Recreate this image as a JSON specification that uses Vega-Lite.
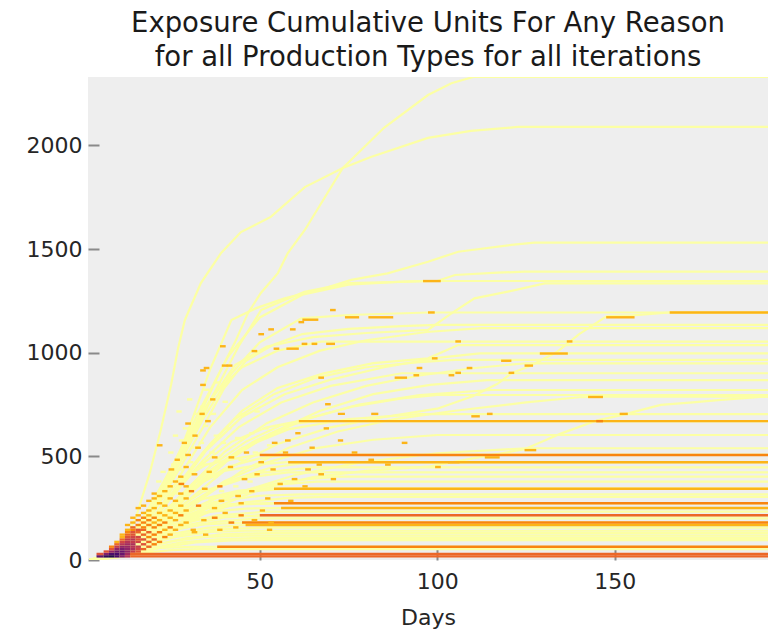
{
  "$schema": "https://vega.github.io/schema/vega-lite/v6.json",
  "width": 680,
  "height": 483,
  "autosize": {"type": "none"},
  "padding": {"left": 88, "top": 77, "right": 0, "bottom": 70},
  "background": "white",
  "title": {
    "text": ["Exposure Cumulative Units For Any Reason", "for all Production Types for all iterations"],
    "font": "DejaVu Sans",
    "fontSize": 27.5,
    "fontWeight": "normal",
    "color": "#1a1a1a",
    "lineHeight": 34,
    "anchor": "middle",
    "offset": 6
  },
  "datasets": {
    "paths": [
      {"it":1,"day":2,"units":0},{"it":1,"day":8,"units":20},{"it":1,"day":14,"units":100},{"it":1,"day":20,"units":260},{"it":1,"day":26,"units":450},{"it":1,"day":32,"units":660},{"it":1,"day":38,"units":880},{"it":1,"day":43,"units":1050},{"it":1,"day":46.7,"units":1192},{"it":1,"day":50.3,"units":1288},{"it":1,"day":55.1,"units":1384},{"it":1,"day":57.9,"units":1481},{"it":1,"day":62.7,"units":1592},{"it":1,"day":73.4,"units":1891},{"it":1,"day":85,"units":2085},{"it":1,"day":97.4,"units":2243},{"it":1,"day":104,"units":2300},{"it":1,"day":110.1,"units":2330},{"it":1,"day":194,"units":2330},
      {"it":2,"day":2,"units":0},{"it":2,"day":7,"units":15},{"it":2,"day":11,"units":70},{"it":2,"day":15,"units":200},{"it":2,"day":19,"units":420},{"it":2,"day":22,"units":620},{"it":2,"day":25,"units":844},{"it":2,"day":27,"units":1023},{"it":2,"day":28.9,"units":1158},{"it":2,"day":33.4,"units":1336},{"it":2,"day":39.1,"units":1481},{"it":2,"day":44.7,"units":1582},{"it":2,"day":53.1,"units":1655},{"it":2,"day":62.7,"units":1799},{"it":2,"day":73.4,"units":1891},{"it":2,"day":81.3,"units":1944},{"it":2,"day":97.4,"units":2036},{"it":2,"day":109.5,"units":2070},{"it":2,"day":122.7,"units":2089},{"it":2,"day":194,"units":2089},
      {"it":3,"day":2,"units":0},{"it":3,"day":8,"units":15},{"it":3,"day":14,"units":90},{"it":3,"day":20,"units":240},{"it":3,"day":26,"units":450},{"it":3,"day":31,"units":680},{"it":3,"day":36,"units":920},{"it":3,"day":42,"units":1158},{"it":3,"day":49,"units":1215},{"it":3,"day":57,"units":1262},{"it":3,"day":67.3,"units":1306},{"it":3,"day":75.8,"units":1351},{"it":3,"day":86,"units":1383},{"it":3,"day":97.4,"units":1439},{"it":3,"day":105.9,"units":1487},{"it":3,"day":120.9,"units":1520},{"it":3,"day":127.4,"units":1531},{"it":3,"day":194,"units":1531},
      {"it":4,"day":2,"units":0},{"it":4,"day":9,"units":25},{"it":4,"day":16,"units":140},{"it":4,"day":23,"units":330},{"it":4,"day":30,"units":560},{"it":4,"day":37,"units":800},{"it":4,"day":44,"units":1030},{"it":4,"day":50.4,"units":1206},{"it":4,"day":62.6,"units":1294},{"it":4,"day":75,"units":1336},{"it":4,"day":100,"units":1346},{"it":4,"day":105,"units":1375},{"it":4,"day":117,"units":1386},{"it":4,"day":124.6,"units":1391},{"it":4,"day":194,"units":1391},
      {"it":5,"day":2,"units":0},{"it":5,"day":10,"units":40},{"it":5,"day":17,"units":190},{"it":5,"day":25,"units":440},{"it":5,"day":33,"units":720},{"it":5,"day":41,"units":980},{"it":5,"day":50,"units":1170},{"it":5,"day":62,"units":1280},{"it":5,"day":75,"units":1328},{"it":5,"day":90,"units":1343},{"it":5,"day":96,"units":1346},{"it":5,"day":194,"units":1346},
      {"it":6,"day":2,"units":0},{"it":6,"day":11,"units":50},{"it":6,"day":19,"units":230},{"it":6,"day":27,"units":480},{"it":6,"day":35,"units":740},{"it":6,"day":43,"units":940},{"it":6,"day":52,"units":1030},{"it":6,"day":65,"units":1075},{"it":6,"day":80,"units":1095},{"it":6,"day":97.4,"units":1110},{"it":6,"day":104,"units":1190},{"it":6,"day":110.5,"units":1262},{"it":6,"day":119.9,"units":1295},{"it":6,"day":130.3,"units":1334},{"it":6,"day":194,"units":1334},
      {"it":7,"day":2,"units":0},{"it":7,"day":10,"units":35},{"it":7,"day":18,"units":180},{"it":7,"day":26,"units":420},{"it":7,"day":34,"units":680},{"it":7,"day":42,"units":900},{"it":7,"day":50,"units":1050},{"it":7,"day":61.7,"units":1166},{"it":7,"day":75,"units":1182},{"it":7,"day":97.4,"units":1194},{"it":7,"day":194,"units":1194},
      {"it":8,"day":2,"units":0},{"it":8,"day":11,"units":30},{"it":8,"day":20,"units":130},{"it":8,"day":30,"units":290},{"it":8,"day":40,"units":430},{"it":8,"day":55,"units":560},{"it":8,"day":70,"units":640},{"it":8,"day":85,"units":690},{"it":8,"day":100,"units":730},{"it":8,"day":110,"units":790},{"it":8,"day":117,"units":850},{"it":8,"day":121,"units":902},{"it":8,"day":126,"units":935},{"it":8,"day":133.7,"units":1003},{"it":8,"day":140,"units":1090},{"it":8,"day":147.8,"units":1177},{"it":8,"day":155,"units":1180},{"it":8,"day":165.5,"units":1194},{"it":8,"day":194,"units":1194},
      {"it":9,"day":2,"units":0},{"it":9,"day":10,"units":30},{"it":9,"day":18,"units":170},{"it":9,"day":26,"units":400},{"it":9,"day":34,"units":640},{"it":9,"day":40,"units":830},{"it":9,"day":46,"units":960},{"it":9,"day":54,"units":1040},{"it":9,"day":62,"units":1090},{"it":9,"day":75,"units":1115},{"it":9,"day":90,"units":1128},{"it":9,"day":100,"units":1134},{"it":9,"day":194,"units":1134},
      {"it":10,"day":2,"units":0},{"it":10,"day":12,"units":45},{"it":10,"day":20,"units":200},{"it":10,"day":28,"units":420},{"it":10,"day":36,"units":640},{"it":10,"day":45,"units":820},{"it":10,"day":55,"units":930},{"it":10,"day":67,"units":1010},{"it":10,"day":80,"units":1060},{"it":10,"day":97,"units":1100},{"it":10,"day":112.4,"units":1119},{"it":10,"day":194,"units":1119},
      {"it":11,"day":2,"units":0},{"it":11,"day":9,"units":30},{"it":11,"day":16,"units":170},{"it":11,"day":23,"units":380},{"it":11,"day":30,"units":600},{"it":11,"day":37,"units":800},{"it":11,"day":45,"units":930},{"it":11,"day":55,"units":1010},{"it":11,"day":67.3,"units":1053},{"it":11,"day":194,"units":1053},
      {"it":12,"day":2,"units":0},{"it":12,"day":12,"units":40},{"it":12,"day":20,"units":190},{"it":12,"day":28,"units":380},{"it":12,"day":36,"units":560},{"it":12,"day":45,"units":720},{"it":12,"day":55,"units":830},{"it":12,"day":68,"units":900},{"it":12,"day":82,"units":950},{"it":12,"day":97.4,"units":973},{"it":12,"day":105.9,"units":1037},{"it":12,"day":194,"units":1037},
      {"it":13,"day":2,"units":0},{"it":13,"day":11,"units":35},{"it":13,"day":19,"units":170},{"it":13,"day":27,"units":350},{"it":13,"day":35,"units":530},{"it":13,"day":45,"units":690},{"it":13,"day":57,"units":800},{"it":13,"day":70,"units":870},{"it":13,"day":85,"units":930},{"it":13,"day":100,"units":975},{"it":13,"day":112,"units":997},{"it":13,"day":194,"units":997},
      {"it":14,"day":2,"units":0},{"it":14,"day":10,"units":30},{"it":14,"day":18,"units":160},{"it":14,"day":26,"units":340},{"it":14,"day":34,"units":520},{"it":14,"day":43,"units":680},{"it":14,"day":54,"units":800},{"it":14,"day":66,"units":880},{"it":14,"day":80,"units":930},{"it":14,"day":95,"units":955},{"it":14,"day":105,"units":965},{"it":14,"day":194,"units":965},
      {"it":15,"day":2,"units":0},{"it":15,"day":12,"units":40},{"it":15,"day":21,"units":180},{"it":15,"day":30,"units":350},{"it":15,"day":40,"units":520},{"it":15,"day":52,"units":660},{"it":15,"day":65,"units":760},{"it":15,"day":80,"units":840},{"it":15,"day":95,"units":890},{"it":15,"day":110,"units":925},{"it":15,"day":125,"units":949},{"it":15,"day":194,"units":949},
      {"it":16,"day":2,"units":0},{"it":16,"day":10,"units":30},{"it":16,"day":18,"units":150},{"it":16,"day":26,"units":320},{"it":16,"day":34,"units":480},{"it":16,"day":44,"units":640},{"it":16,"day":56,"units":760},{"it":16,"day":70,"units":840},{"it":16,"day":90,"units":901},{"it":16,"day":194,"units":901},
      {"it":17,"day":2,"units":0},{"it":17,"day":13,"units":40},{"it":17,"day":22,"units":170},{"it":17,"day":31,"units":330},{"it":17,"day":41,"units":480},{"it":17,"day":53,"units":610},{"it":17,"day":67,"units":720},{"it":17,"day":82,"units":800},{"it":17,"day":98,"units":845},{"it":17,"day":114,"units":868},{"it":17,"day":194,"units":868},
      {"it":18,"day":2,"units":0},{"it":18,"day":12,"units":35},{"it":18,"day":20,"units":150},{"it":18,"day":29,"units":300},{"it":18,"day":38,"units":450},{"it":18,"day":50,"units":580},{"it":18,"day":63,"units":680},{"it":18,"day":78,"units":750},{"it":18,"day":95,"units":795},{"it":18,"day":115,"units":820},{"it":18,"day":194,"units":820},
      {"it":19,"day":2,"units":0},{"it":19,"day":11,"units":30},{"it":19,"day":19,"units":140},{"it":19,"day":28,"units":290},{"it":19,"day":37,"units":440},{"it":19,"day":48,"units":570},{"it":19,"day":61,"units":670},{"it":19,"day":76,"units":740},{"it":19,"day":90,"units":780},{"it":19,"day":100,"units":796},{"it":19,"day":194,"units":796},
      {"it":20,"day":2,"units":0},{"it":20,"day":14,"units":40},{"it":20,"day":24,"units":160},{"it":20,"day":34,"units":300},{"it":20,"day":45,"units":430},{"it":20,"day":58,"units":540},{"it":20,"day":72,"units":620},{"it":20,"day":88,"units":680},{"it":20,"day":105,"units":720},{"it":20,"day":125,"units":760},{"it":20,"day":140,"units":785},{"it":20,"day":147,"units":788},{"it":20,"day":194,"units":788},
      {"it":21,"day":2,"units":0},{"it":21,"day":14,"units":30},{"it":21,"day":25,"units":130},{"it":21,"day":37,"units":250},{"it":21,"day":50,"units":340},{"it":21,"day":65,"units":400},{"it":21,"day":80,"units":430},{"it":21,"day":97.4,"units":450},{"it":21,"day":110,"units":490},{"it":21,"day":124.6,"units":534},{"it":21,"day":135,"units":611},{"it":21,"day":145.3,"units":675},{"it":21,"day":151.9,"units":699},{"it":21,"day":163,"units":748},{"it":21,"day":172,"units":760},{"it":21,"day":180,"units":772},{"it":21,"day":194,"units":790},
      {"it":22,"day":2,"units":0},{"it":22,"day":10,"units":25},{"it":22,"day":18,"units":130},{"it":22,"day":26,"units":280},{"it":22,"day":35,"units":420},{"it":22,"day":45,"units":540},{"it":22,"day":58,"units":630},{"it":22,"day":75,"units":680},{"it":22,"day":95,"units":704},{"it":22,"day":194,"units":704},
      {"it":23,"day":2,"units":0},{"it":23,"day":9,"units":25},{"it":23,"day":16,"units":130},{"it":23,"day":24,"units":290},{"it":23,"day":32,"units":440},{"it":23,"day":42,"units":570},{"it":23,"day":52,"units":640},{"it":23,"day":61,"units":670},{"it":23,"day":194,"units":670},
      {"it":24,"day":2,"units":0},{"it":24,"day":11,"units":30},{"it":24,"day":19,"units":150},{"it":24,"day":27,"units":300},{"it":24,"day":36,"units":450},{"it":24,"day":46,"units":570},{"it":24,"day":56,"units":650},{"it":24,"day":66,"units":670},{"it":24,"day":194,"units":670},
      {"it":25,"day":2,"units":0},{"it":25,"day":12,"units":30},{"it":25,"day":21,"units":130},{"it":25,"day":30,"units":260},{"it":25,"day":40,"units":380},{"it":25,"day":52,"units":470},{"it":25,"day":66,"units":540},{"it":25,"day":82,"units":580},{"it":25,"day":100,"units":603},{"it":25,"day":194,"units":603},
      {"it":26,"day":2,"units":0},{"it":26,"day":13,"units":30},{"it":26,"day":23,"units":120},{"it":26,"day":33,"units":230},{"it":26,"day":45,"units":330},{"it":26,"day":60,"units":410},{"it":26,"day":78,"units":470},{"it":26,"day":100,"units":515},{"it":26,"day":125,"units":539},{"it":26,"day":194,"units":539},
      {"it":27,"day":2,"units":0},{"it":27,"day":8,"units":20},{"it":27,"day":14,"units":110},{"it":27,"day":20,"units":250},{"it":27,"day":27,"units":380},{"it":27,"day":35,"units":460},{"it":27,"day":45,"units":495},{"it":27,"day":50,"units":507},{"it":27,"day":194,"units":507},
      {"it":28,"day":2,"units":0},{"it":28,"day":10,"units":25},{"it":28,"day":17,"units":120},{"it":28,"day":24,"units":240},{"it":28,"day":32,"units":360},{"it":28,"day":41,"units":450},{"it":28,"day":50,"units":490},{"it":28,"day":56,"units":507},{"it":28,"day":194,"units":507},
      {"it":29,"day":2,"units":0},{"it":29,"day":9,"units":20},{"it":29,"day":15,"units":100},{"it":29,"day":22,"units":220},{"it":29,"day":30,"units":340},{"it":29,"day":40,"units":430},{"it":29,"day":52,"units":465},{"it":29,"day":58,"units":472},{"it":29,"day":194,"units":472},
      {"it":30,"day":2,"units":0},{"it":30,"day":12,"units":30},{"it":30,"day":20,"units":130},{"it":30,"day":30,"units":270},{"it":30,"day":41,"units":380},{"it":30,"day":53,"units":445},{"it":30,"day":64,"units":472},{"it":30,"day":194,"units":472},
      {"it":31,"day":2,"units":0},{"it":31,"day":11,"units":25},{"it":31,"day":19,"units":120},{"it":31,"day":28,"units":250},{"it":31,"day":38,"units":350},{"it":31,"day":50,"units":420},{"it":31,"day":65,"units":447},{"it":31,"day":194,"units":447},
      {"it":32,"day":2,"units":0},{"it":32,"day":10,"units":25},{"it":32,"day":17,"units":110},{"it":32,"day":25,"units":230},{"it":32,"day":34,"units":330},{"it":32,"day":45,"units":395},{"it":32,"day":58,"units":423},{"it":32,"day":194,"units":423},
      {"it":33,"day":2,"units":0},{"it":33,"day":13,"units":30},{"it":33,"day":22,"units":120},{"it":33,"day":32,"units":230},{"it":33,"day":43,"units":320},{"it":33,"day":57,"units":380},{"it":33,"day":72,"units":402},{"it":33,"day":194,"units":402},
      {"it":34,"day":2,"units":0},{"it":34,"day":12,"units":30},{"it":34,"day":20,"units":120},{"it":34,"day":29,"units":230},{"it":34,"day":39,"units":310},{"it":34,"day":52,"units":360},{"it":34,"day":66,"units":378},{"it":34,"day":194,"units":378},
      {"it":35,"day":2,"units":0},{"it":35,"day":9,"units":20},{"it":35,"day":16,"units":100},{"it":35,"day":24,"units":210},{"it":35,"day":33,"units":290},{"it":35,"day":44,"units":335},{"it":35,"day":54,"units":344},{"it":35,"day":194,"units":344},
      {"it":36,"day":2,"units":0},{"it":36,"day":11,"units":25},{"it":36,"day":19,"units":110},{"it":36,"day":28,"units":220},{"it":36,"day":38,"units":300},{"it":36,"day":50,"units":335},{"it":36,"day":58,"units":344},{"it":36,"day":194,"units":344},
      {"it":37,"day":2,"units":0},{"it":37,"day":10,"units":25},{"it":37,"day":18,"units":110},{"it":37,"day":27,"units":210},{"it":37,"day":37,"units":280},{"it":37,"day":50,"units":310},{"it":37,"day":62,"units":317},{"it":37,"day":194,"units":317},
      {"it":38,"day":2,"units":0},{"it":38,"day":13,"units":30},{"it":38,"day":22,"units":120},{"it":38,"day":32,"units":210},{"it":38,"day":44,"units":275},{"it":38,"day":58,"units":300},{"it":38,"day":70,"units":305},{"it":38,"day":194,"units":305},
      {"it":39,"day":2,"units":0},{"it":39,"day":8,"units":20},{"it":39,"day":14,"units":90},{"it":39,"day":21,"units":180},{"it":39,"day":30,"units":245},{"it":39,"day":42,"units":270},{"it":39,"day":54,"units":274},{"it":39,"day":194,"units":274},
      {"it":40,"day":2,"units":0},{"it":40,"day":10,"units":25},{"it":40,"day":17,"units":100},{"it":40,"day":25,"units":190},{"it":40,"day":35,"units":250},{"it":40,"day":47,"units":270},{"it":40,"day":58,"units":274},{"it":40,"day":194,"units":274},
      {"it":41,"day":2,"units":0},{"it":41,"day":9,"units":20},{"it":41,"day":16,"units":100},{"it":41,"day":24,"units":180},{"it":41,"day":34,"units":230},{"it":41,"day":46,"units":248},{"it":41,"day":56,"units":250.5},{"it":41,"day":194,"units":250.5},
      {"it":42,"day":2,"units":0},{"it":42,"day":10,"units":20},{"it":42,"day":18,"units":100},{"it":42,"day":27,"units":170},{"it":42,"day":38,"units":215},{"it":42,"day":52,"units":233},{"it":42,"day":194,"units":233},
      {"it":43,"day":2,"units":0},{"it":43,"day":8,"units":20},{"it":43,"day":14,"units":80},{"it":43,"day":21,"units":150},{"it":43,"day":30,"units":195},{"it":43,"day":42,"units":210},{"it":43,"day":50,"units":215.5},{"it":43,"day":194,"units":215.5},
      {"it":44,"day":2,"units":0},{"it":44,"day":12,"units":25},{"it":44,"day":20,"units":100},{"it":44,"day":30,"units":170},{"it":44,"day":40,"units":205},{"it":44,"day":52,"units":215.5},{"it":44,"day":194,"units":215.5},
      {"it":45,"day":2,"units":0},{"it":45,"day":10,"units":20},{"it":45,"day":18,"units":90},{"it":45,"day":27,"units":150},{"it":45,"day":38,"units":185},{"it":45,"day":50,"units":201},{"it":45,"day":194,"units":201},
      {"it":46,"day":2,"units":0},{"it":46,"day":9,"units":20},{"it":46,"day":16,"units":80},{"it":46,"day":24,"units":140},{"it":46,"day":34,"units":172},{"it":46,"day":45,"units":180.6},{"it":46,"day":194,"units":180.6},
      {"it":47,"day":2,"units":0},{"it":47,"day":10,"units":20},{"it":47,"day":17,"units":75},{"it":47,"day":25,"units":125},{"it":47,"day":35,"units":155},{"it":47,"day":46,"units":168.9},{"it":47,"day":194,"units":168.9},
      {"it":48,"day":2,"units":0},{"it":48,"day":11,"units":20},{"it":48,"day":19,"units":80},{"it":48,"day":28,"units":125},{"it":48,"day":38,"units":148},{"it":48,"day":50,"units":156},{"it":48,"day":194,"units":156},
      {"it":49,"day":2,"units":0},{"it":49,"day":10,"units":20},{"it":49,"day":17,"units":70},{"it":49,"day":26,"units":110},{"it":49,"day":36,"units":135},{"it":49,"day":46,"units":141},{"it":49,"day":194,"units":141},
      {"it":50,"day":2,"units":0},{"it":50,"day":12,"units":20},{"it":50,"day":20,"units":70},{"it":50,"day":29,"units":105},{"it":50,"day":40,"units":125},{"it":50,"day":52,"units":130},{"it":50,"day":194,"units":130},
      {"it":51,"day":2,"units":0},{"it":51,"day":9,"units":15},{"it":51,"day":16,"units":55},{"it":51,"day":25,"units":90},{"it":51,"day":35,"units":112},{"it":51,"day":46,"units":118},{"it":51,"day":194,"units":118},
      {"it":52,"day":2,"units":0},{"it":52,"day":11,"units":15},{"it":52,"day":19,"units":55},{"it":52,"day":28,"units":85},{"it":52,"day":38,"units":100},{"it":52,"day":48,"units":106},{"it":52,"day":194,"units":106},
      {"it":53,"day":2,"units":0},{"it":53,"day":13,"units":20},{"it":53,"day":22,"units":60},{"it":53,"day":32,"units":85},{"it":53,"day":42,"units":94},{"it":53,"day":52,"units":96},{"it":53,"day":194,"units":96},
      {"it":54,"day":2,"units":0},{"it":54,"day":9,"units":12},{"it":54,"day":15,"units":40},{"it":54,"day":22,"units":58},{"it":54,"day":30,"units":63},{"it":54,"day":38,"units":64},{"it":54,"day":194,"units":64},
      {"it":55,"day":2,"units":0},{"it":55,"day":10,"units":12},{"it":55,"day":17,"units":35},{"it":55,"day":25,"units":48},{"it":55,"day":33,"units":52},{"it":55,"day":194,"units":52}
    ],
    "cells": [
      {"d0":20.2,"d1":21.7,"units":280,"n":1},{"d0":21.5,"d1":23,"units":330,"n":1},{"d0":20.8,"d1":22.3,"units":380,"n":1},{"d0":22,"d1":23.5,"units":420,"n":1},
      {"d0":23.2,"d1":24.7,"units":300,"n":1},{"d0":24.5,"d1":26,"units":350,"n":1},{"d0":23.8,"d1":25.3,"units":400,"n":1},{"d0":25,"d1":26.5,"units":460,"n":1},{"d0":24.2,"d1":25.7,"units":520,"n":1},{"d0":25.5,"d1":27,"units":600,"n":1},
      {"d0":26.3,"d1":27.8,"units":320,"n":1},{"d0":27.5,"d1":29,"units":390,"n":1},{"d0":26.8,"d1":28.3,"units":440,"n":1},{"d0":28,"d1":29.5,"units":500,"n":1},{"d0":27.2,"d1":28.7,"units":580,"n":1},{"d0":28.3,"d1":29.8,"units":640,"n":1},{"d0":26.5,"d1":28,"units":720,"n":1},
      {"d0":29.3,"d1":30.8,"units":350,"n":1},{"d0":30.5,"d1":32,"units":420,"n":1},{"d0":29.8,"d1":31.3,"units":470,"n":1},{"d0":31,"d1":32.5,"units":540,"n":1},{"d0":30.2,"d1":31.7,"units":620,"n":1},{"d0":31.5,"d1":33,"units":700,"n":1},{"d0":29.5,"d1":31,"units":780,"n":1},
      {"d0":32.4,"d1":33.9,"units":380,"n":1},{"d0":33.6,"d1":35.1,"units":460,"n":1},{"d0":32.8,"d1":34.3,"units":560,"n":1},{"d0":34,"d1":35.5,"units":650,"n":1},{"d0":33.2,"d1":34.7,"units":740,"n":1},{"d0":34.3,"d1":35.8,"units":820,"n":1},
      {"d0":35.4,"d1":36.9,"units":300,"n":1},{"d0":36.6,"d1":38.1,"units":400,"n":1},{"d0":35.8,"d1":37.3,"units":520,"n":1},{"d0":37,"d1":38.5,"units":600,"n":1},{"d0":36.2,"d1":37.7,"units":700,"n":1},{"d0":37.4,"d1":38.9,"units":860,"n":1},
      {"d0":38.5,"d1":40,"units":330,"n":1},{"d0":40,"d1":41.5,"units":440,"n":1},{"d0":39,"d1":40.5,"units":560,"n":1},{"d0":40.5,"d1":42,"units":640,"n":1},{"d0":39.5,"d1":41,"units":760,"n":1},
      {"d0":42.5,"d1":44,"units":360,"n":1},{"d0":44,"d1":45.5,"units":480,"n":1},{"d0":43,"d1":44.5,"units":590,"n":1},{"d0":44.5,"d1":46,"units":700,"n":1},
      {"d0":46.5,"d1":48,"units":380,"n":1},{"d0":48,"d1":49.5,"units":520,"n":1},{"d0":47,"d1":48.5,"units":610,"n":1},{"d0":48.5,"d1":50,"units":720,"n":1},
      {"d0":50.5,"d1":52,"units":420,"n":1},{"d0":52,"d1":53.5,"units":550,"n":1},{"d0":51,"d1":52.5,"units":640,"n":1},
      {"d0":1.6,"d1":4,"units":5.8,"n":55},
      {"d0":4,"d1":6,"units":5.8,"n":45},{"d0":4,"d1":6,"units":17.5,"n":20},{"d0":4,"d1":6,"units":29.1,"n":5},
      {"d0":6,"d1":7.5,"units":5.8,"n":35},{"d0":6,"d1":7.5,"units":17.5,"n":32},{"d0":6,"d1":7.5,"units":29.1,"n":14},{"d0":6,"d1":7.5,"units":40.8,"n":5},
      {"d0":7.5,"d1":9,"units":5.8,"n":22},{"d0":7.5,"d1":9,"units":17.5,"n":35},{"d0":7.5,"d1":9,"units":29.1,"n":24},{"d0":7.5,"d1":9,"units":40.8,"n":12},{"d0":7.5,"d1":9,"units":52.4,"n":5},{"d0":7.5,"d1":9,"units":64.1,"n":3},
      {"d0":9,"d1":10.5,"units":5.8,"n":10},{"d0":9,"d1":10.5,"units":17.5,"n":25},{"d0":9,"d1":10.5,"units":29.1,"n":25},{"d0":9,"d1":10.5,"units":40.8,"n":18},{"d0":9,"d1":10.5,"units":52.4,"n":12},{"d0":9,"d1":10.5,"units":64.1,"n":7},{"d0":9,"d1":10.5,"units":75.7,"n":4},{"d0":9,"d1":10.5,"units":87.4,"n":2},
      {"d0":10.5,"d1":12,"units":5.8,"n":5},{"d0":10.5,"d1":12,"units":17.5,"n":14},{"d0":10.5,"d1":12,"units":29.1,"n":18},{"d0":10.5,"d1":12,"units":40.8,"n":18},{"d0":10.5,"d1":12,"units":52.4,"n":15},{"d0":10.5,"d1":12,"units":64.1,"n":12},{"d0":10.5,"d1":12,"units":75.7,"n":8},{"d0":10.5,"d1":12,"units":87.4,"n":6},{"d0":10.5,"d1":12,"units":99,"n":4},{"d0":10.5,"d1":12,"units":110.7,"n":2},{"d0":10.5,"d1":12,"units":122.3,"n":2},
      {"d0":12,"d1":13.5,"units":17.5,"n":8},{"d0":12,"d1":13.5,"units":29.1,"n":10},{"d0":12,"d1":13.5,"units":40.8,"n":12},{"d0":12,"d1":13.5,"units":52.4,"n":12},{"d0":12,"d1":13.5,"units":64.1,"n":11},{"d0":12,"d1":13.5,"units":75.7,"n":10},{"d0":12,"d1":13.5,"units":87.4,"n":8},{"d0":12,"d1":13.5,"units":99,"n":7},{"d0":12,"d1":13.5,"units":110.7,"n":5},{"d0":12,"d1":13.5,"units":122.3,"n":4},{"d0":12,"d1":13.5,"units":134,"n":3},{"d0":12,"d1":13.5,"units":145.6,"n":2},{"d0":12,"d1":13.5,"units":168.9,"n":2},
      {"d0":13.5,"d1":15,"units":29.1,"n":6},{"d0":13.5,"d1":15,"units":40.8,"n":7},{"d0":13.5,"d1":15,"units":52.4,"n":9},{"d0":13.5,"d1":15,"units":64.1,"n":8},{"d0":13.5,"d1":15,"units":75.7,"n":9},{"d0":13.5,"d1":15,"units":87.4,"n":7},{"d0":13.5,"d1":15,"units":99,"n":8},{"d0":13.5,"d1":15,"units":110.7,"n":6},{"d0":13.5,"d1":15,"units":122.3,"n":5},{"d0":13.5,"d1":15,"units":134,"n":5},{"d0":13.5,"d1":15,"units":145.6,"n":3},{"d0":13.5,"d1":15,"units":157.3,"n":4},{"d0":13.5,"d1":15,"units":180.6,"n":2},{"d0":13.5,"d1":15,"units":203.9,"n":2},
      {"d0":15,"d1":16.5,"units":40.8,"n":5},{"d0":15,"d1":16.5,"units":52.4,"n":6},{"d0":15,"d1":16.5,"units":64.1,"n":7},{"d0":15,"d1":16.5,"units":87.4,"n":6},{"d0":15,"d1":16.5,"units":99,"n":5},{"d0":15,"d1":16.5,"units":110.7,"n":6},{"d0":15,"d1":16.5,"units":134,"n":4},{"d0":15,"d1":16.5,"units":145.6,"n":5},{"d0":15,"d1":16.5,"units":168.9,"n":3},{"d0":15,"d1":16.5,"units":192.2,"n":3},{"d0":15,"d1":16.5,"units":215.5,"n":2},{"d0":15,"d1":16.5,"units":250.5,"n":2},
      {"d0":16.5,"d1":18,"units":52.4,"n":4},{"d0":16.5,"d1":18,"units":75.7,"n":5},{"d0":16.5,"d1":18,"units":99,"n":5},{"d0":16.5,"d1":18,"units":122.3,"n":4},{"d0":16.5,"d1":18,"units":145.6,"n":4},{"d0":16.5,"d1":18,"units":157.3,"n":3},{"d0":16.5,"d1":18,"units":180.6,"n":3},{"d0":16.5,"d1":18,"units":203.9,"n":3},{"d0":16.5,"d1":18,"units":227.2,"n":2},{"d0":16.5,"d1":18,"units":262,"n":2},
      {"d0":18,"d1":19.5,"units":64.1,"n":4},{"d0":18,"d1":19.5,"units":87.4,"n":4},{"d0":18,"d1":19.5,"units":110.7,"n":3},{"d0":18,"d1":19.5,"units":134,"n":4},{"d0":18,"d1":19.5,"units":168.9,"n":3},{"d0":18,"d1":19.5,"units":192.2,"n":3},{"d0":18,"d1":19.5,"units":215.5,"n":2},{"d0":18,"d1":19.5,"units":238.8,"n":2},{"d0":18,"d1":19.5,"units":285.4,"n":2},
      {"d0":19.5,"d1":21,"units":75.7,"n":3},{"d0":19.5,"d1":21,"units":99,"n":4},{"d0":19.5,"d1":21,"units":122.3,"n":3},{"d0":19.5,"d1":21,"units":157.3,"n":3},{"d0":19.5,"d1":21,"units":180.6,"n":2},{"d0":19.5,"d1":21,"units":203.9,"n":3},{"d0":19.5,"d1":21,"units":250.5,"n":2},{"d0":19.5,"d1":21,"units":297,"n":2},{"d0":19.5,"d1":21,"units":320.3,"n":2},
      {"d0":21,"d1":22.5,"units":87.4,"n":3},{"d0":21,"d1":22.5,"units":134,"n":3},{"d0":21,"d1":22.5,"units":168.9,"n":3},{"d0":21,"d1":22.5,"units":192.2,"n":2},{"d0":21,"d1":22.5,"units":227.2,"n":2},{"d0":21,"d1":22.5,"units":273.8,"n":2},{"d0":21,"d1":22.5,"units":308.7,"n":2},
      {"d0":22.5,"d1":24,"units":110.7,"n":3},{"d0":22.5,"d1":24,"units":145.6,"n":2},{"d0":22.5,"d1":24,"units":180.6,"n":3},{"d0":22.5,"d1":24,"units":215.5,"n":2},{"d0":22.5,"d1":24,"units":262,"n":2},{"d0":22.5,"d1":24,"units":332,"n":2},
      {"d0":24,"d1":25.5,"units":122.3,"n":2},{"d0":24,"d1":25.5,"units":157.3,"n":3},{"d0":24,"d1":25.5,"units":203.9,"n":2},{"d0":24,"d1":25.5,"units":238.8,"n":2},{"d0":24,"d1":25.5,"units":297,"n":2},{"d0":24,"d1":25.5,"units":355,"n":2},
      {"d0":25.5,"d1":27,"units":145.6,"n":2},{"d0":25.5,"d1":27,"units":192.2,"n":2},{"d0":25.5,"d1":27,"units":227.2,"n":2},{"d0":25.5,"d1":27,"units":285.4,"n":2},{"d0":25.5,"d1":27,"units":378.6,"n":2},
      {"d0":27,"d1":28.5,"units":168.9,"n":2},{"d0":27,"d1":28.5,"units":215.5,"n":3},{"d0":27,"d1":28.5,"units":262,"n":2},{"d0":27,"d1":28.5,"units":320.3,"n":2},{"d0":27,"d1":28.5,"units":402,"n":2},
      {"d0":28.5,"d1":30,"units":180.6,"n":2},{"d0":28.5,"d1":30,"units":238.8,"n":2},{"d0":28.5,"d1":30,"units":297,"n":2},{"d0":28.5,"d1":30,"units":355,"n":2},{"d0":28.5,"d1":30,"units":448,"n":2},
      {"d0":13.5,"d1":194,"units":5.8,"n":1},{"d0":13.5,"d1":194,"units":17.5,"n":4},{"d0":13.5,"d1":194,"units":29.1,"n":4},
      {"d0":38,"d1":194,"units":64.1,"n":3},
      {"d0":46,"d1":194,"units":168.9,"n":2},
      {"d0":45,"d1":194,"units":180.6,"n":3},
      {"d0":50,"d1":194,"units":215.5,"n":4},
      {"d0":56,"d1":194,"units":250.5,"n":2},
      {"d0":54,"d1":194,"units":274,"n":3},
      {"d0":54,"d1":194,"units":344,"n":2},
      {"d0":58,"d1":194,"units":472,"n":2},
      {"d0":50,"d1":194,"units":507,"n":3},
      {"d0":61,"d1":194,"units":670,"n":2},
      {"d0":144.8,"d1":146.7,"units":670,"n":3},
      {"d0":96,"d1":101,"units":1346,"n":2},
      {"d0":165.5,"d1":194,"units":1194,"n":2},
      {"d0":30.5,"d1":32,"units":150,"n":2},{"d0":32,"d1":33.5,"units":262,"n":3},{"d0":33.5,"d1":35,"units":190,"n":2},{"d0":35,"d1":36.5,"units":420,"n":2},{"d0":36.5,"d1":38,"units":250,"n":2},{"d0":38,"d1":39.5,"units":355,"n":3},{"d0":39.5,"d1":41,"units":230,"n":2},{"d0":41,"d1":42.5,"units":450,"n":2},{"d0":42.5,"d1":44,"units":160,"n":2},{"d0":44,"d1":45.5,"units":270,"n":2},{"d0":45.5,"d1":47,"units":520,"n":2},{"d0":47,"d1":48.5,"units":330,"n":2},{"d0":48.5,"d1":50,"units":410,"n":2},{"d0":50,"d1":51.5,"units":240,"n":2},{"d0":51.5,"d1":53,"units":300,"n":2},{"d0":53,"d1":54.5,"units":440,"n":2},{"d0":55,"d1":56.5,"units":370,"n":2},{"d0":56.5,"d1":58,"units":520,"n":2},{"d0":58,"d1":59.5,"units":290,"n":2},{"d0":60,"d1":61.5,"units":610,"n":2},{"d0":62,"d1":63.5,"units":360,"n":2},{"d0":64,"d1":65.5,"units":540,"n":2},{"d0":66,"d1":67.5,"units":460,"n":2},{"d0":68,"d1":69.5,"units":640,"n":2},{"d0":70,"d1":71.5,"units":395,"n":2},{"d0":72,"d1":73.5,"units":580,"n":2},{"d0":26,"d1":27.5,"units":480,"n":2},{"d0":28,"d1":29.5,"units":560,"n":2},{"d0":31,"d1":32.5,"units":600,"n":2},{"d0":33,"d1":34.5,"units":700,"n":2},{"d0":36,"d1":37.5,"units":780,"n":2},{"d0":30,"d1":31.5,"units":330,"n":3},{"d0":34,"d1":35.5,"units":125,"n":2},{"d0":38,"d1":39.5,"units":140,"n":2},{"d0":44,"d1":45.5,"units":210,"n":3},{"d0":52,"d1":53.5,"units":150,"n":2},
      {"d0":21,"d1":22.6,"units":555,"n":2},{"d0":24.3,"d1":25.9,"units":434,"n":2},{"d0":29,"d1":30.6,"units":506,"n":2},{"d0":31.8,"d1":33.4,"units":547,"n":2},{"d0":34.6,"d1":36.2,"units":667,"n":2},{"d0":29,"d1":30.6,"units":659,"n":2},{"d0":27.1,"d1":28.7,"units":370,"n":3},{"d0":30.8,"d1":32.4,"units":418,"n":2},{"d0":36.5,"d1":38.1,"units":490,"n":2},{"d0":41.2,"d1":42.8,"units":498,"n":2},{"d0":44.9,"d1":46.5,"units":386,"n":2},{"d0":49.6,"d1":51.2,"units":466,"n":2},{"d0":53.4,"d1":55,"units":563,"n":2},{"d0":57.1,"d1":58.7,"units":579,"n":2},{"d0":59,"d1":60.6,"units":386,"n":2},{"d0":62.8,"d1":64.4,"units":434,"n":2},{"d0":66.5,"d1":68.1,"units":418,"n":2},{"d0":72,"d1":74,"units":707,"n":2},{"d0":81.4,"d1":83.4,"units":707,"n":2},{"d0":68.4,"d1":70,"units":756,"n":2},{"d0":75.9,"d1":77.5,"units":523,"n":2},{"d0":80.6,"d1":82.2,"units":482,"n":2},{"d0":85.3,"d1":86.9,"units":458,"n":2},{"d0":90,"d1":91.6,"units":563,"n":2},{"d0":33.7,"d1":35.3,"units":338,"n":2},{"d0":38.4,"d1":40,"units":289,"n":2},{"d0":43.1,"d1":44.7,"units":305,"n":2},{"d0":36.5,"d1":38.1,"units":209,"n":3},{"d0":41.2,"d1":42.8,"units":177,"n":3},{"d0":47.7,"d1":49.3,"units":193,"n":2},{"d0":52.4,"d1":54,"units":177,"n":2},{"d0":30.8,"d1":32.4,"units":129,"n":2},
      {"d0":38.8,"d1":40.4,"units":1029,"n":2},{"d0":33.2,"d1":34.8,"units":909,"n":2},{"d0":33.2,"d1":34.8,"units":844,"n":2},{"d0":34.2,"d1":35.8,"units":925,"n":2},{"d0":49.6,"d1":51.2,"units":1094,"n":2},{"d0":52.4,"d1":54,"units":1113,"n":2},{"d0":58.5,"d1":60.1,"units":1118,"n":2},{"d0":60.9,"d1":62.5,"units":1142,"n":2},{"d0":62,"d1":66.5,"units":1158,"n":2},{"d0":69.8,"d1":71.4,"units":1206,"n":2},{"d0":74,"d1":78,"units":1166,"n":2},{"d0":80.6,"d1":87.6,"units":1174,"n":2},{"d0":47.7,"d1":49.3,"units":1013,"n":2},{"d0":53.9,"d1":55.5,"units":1021,"n":2},{"d0":57.5,"d1":61,"units":1021,"n":2},{"d0":61.8,"d1":63.4,"units":1037,"n":2},{"d0":64.6,"d1":66.2,"units":1045,"n":2},{"d0":68.7,"d1":71.2,"units":1045,"n":2},{"d0":66.5,"d1":68.1,"units":876,"n":2},{"d0":88,"d1":91.5,"units":884,"n":2},{"d0":93.3,"d1":94.9,"units":892,"n":2},{"d0":94.2,"d1":95.8,"units":925,"n":2},{"d0":39.3,"d1":40.9,"units":933,"n":2},{"d0":40.7,"d1":42.3,"units":941,"n":2},
      {"d0":97.4,"d1":99.3,"units":1194,"n":2},{"d0":105.1,"d1":106.7,"units":1053,"n":2},{"d0":98.5,"d1":100.1,"units":973,"n":2},{"d0":108.3,"d1":109.9,"units":925,"n":2},{"d0":103.2,"d1":104.8,"units":893,"n":2},{"d0":105.1,"d1":106.7,"units":900,"n":2},{"d0":118,"d1":120.9,"units":965,"n":2},{"d0":120.1,"d1":121.7,"units":901,"n":2},{"d0":124.6,"d1":127,"units":933,"n":2},{"d0":128.9,"d1":136.8,"units":997,"n":2},{"d0":136.5,"d1":138.1,"units":1053,"n":2},{"d0":147.6,"d1":155.6,"units":1174,"n":2},{"d0":142.5,"d1":146.7,"units":788,"n":2},
      {"d0":109.6,"d1":112,"units":691,"n":2},{"d0":114,"d1":115.6,"units":707,"n":2},{"d0":124.6,"d1":127.9,"units":534,"n":2},{"d0":113.4,"d1":117.6,"units":498,"n":2},{"d0":103,"d1":106.3,"units":474,"n":2},{"d0":99.4,"d1":101,"units":450,"n":2},{"d0":151.4,"d1":153.7,"units":699,"n":2}
    ]
  },
  "layer": [
    {
      "data": {"name": "paths"},
      "mark": {"type": "line", "strokeWidth": 2.2, "strokeCap": "butt", "clip": true},
      "encoding": {
        "x": {"field": "day", "type": "quantitative", "title": "Days",
              "scale": {"domain": [1.6, 193.2], "nice": false, "zero": false},
              "axis": {"values": [50, 100, 150], "labelPadding": 22, "titlePadding": 15}},
        "y": {"field": "units", "type": "quantitative", "title": null,
              "scale": {"domain": [0, 2330], "nice": false, "zero": false},
              "axis": {"values": [0, 500, 1000, 1500, 2000], "format": "d", "labelPadding": 17}},
        "detail": {"field": "it", "type": "nominal"},
        "color": {"datum": 1, "type": "quantitative",
                  "scale": {"type": "log", "scheme": "inferno", "reverse": true, "domain": [1, 60]},
                  "legend": null}
      }
    },
    {
      "data": {"name": "cells"},
      "transform": [
        {"bin": {"step": 11.65, "anchor": 0, "nice": false}, "field": "units", "as": "ub"}
      ],
      "mark": {"type": "rect", "clip": true},
      "encoding": {
        "x": {"field": "d0", "type": "quantitative", "title": "Days",
              "scale": {"domain": [1.6, 193.2], "nice": false, "zero": false},
              "axis": {"values": [50, 100, 150], "labelPadding": 22, "titlePadding": 15}},
        "x2": {"field": "d1"},
        "y": {"field": "ub", "type": "quantitative", "title": null,
              "scale": {"domain": [0, 2330], "nice": false, "zero": false},
              "axis": {"values": [0, 500, 1000, 1500, 2000], "format": "d", "labelPadding": 17}},
        "y2": {"field": "ub_end"},
        "color": {"field": "n", "type": "quantitative",
                  "scale": {"type": "log", "scheme": "inferno", "reverse": true, "domain": [1, 60]},
                  "legend": null}
      }
    }
  ],
  "config": {
    "view": {"fill": "#eeeeee", "stroke": null},
    "axis": {
      "grid": false,
      "domain": false,
      "zindex": 1,
      "labelFont": "DejaVu Sans",
      "labelFontSize": 22,
      "labelColor": "#262626",
      "titleFont": "DejaVu Sans",
      "titleFontSize": 22,
      "titleFontWeight": "normal",
      "titleColor": "#262626",
      "tickColor": "#8a8a8a",
      "tickWidth": 2,
      "tickSize": -11
    }
  }
}
